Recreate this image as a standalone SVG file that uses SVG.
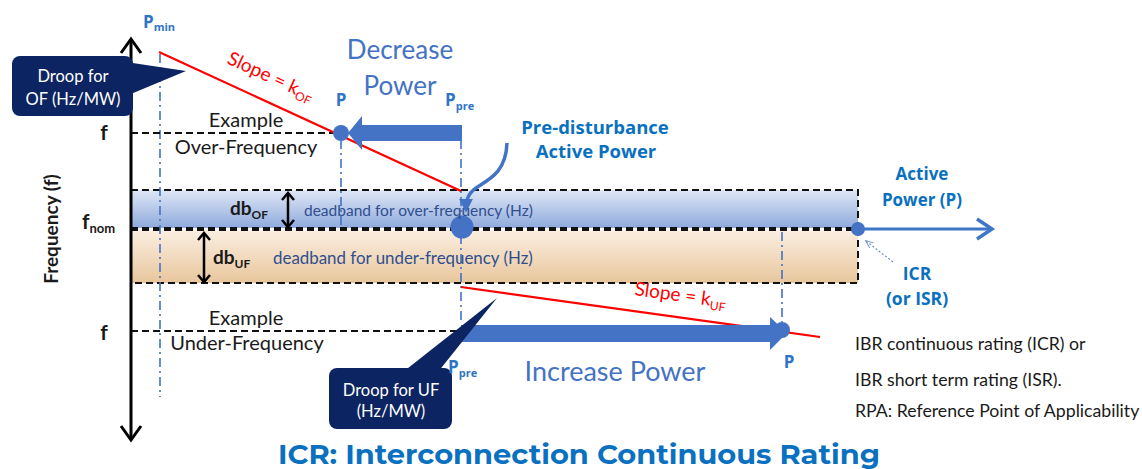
<svg xmlns="http://www.w3.org/2000/svg" width="1142" height="469" viewBox="0 0 1142 469">
<defs>
<style>
.lbl{font-family:Lato,"Open Sans",sans-serif;}
.os{font-family:"Open Sans",Lato,sans-serif;}
.blk{fill:#1a1a1a;}
.pb{fill:#2e75c6;font-weight:bold;}
.bold{font-weight:bold;}
.dd{stroke:#4472c4;stroke-width:1.6;stroke-dasharray:9 4 2 4;fill:none;}
.dash{stroke:#111;stroke-width:2;stroke-dasharray:7 4;fill:none;}
.red{stroke:#ff0000;stroke-width:2.2;fill:none;}
.wt{fill:#ffffff;font-size:16.5px;text-anchor:middle;}
.callout{fill:#0c2461;}
</style>
<linearGradient id="gBlue" x1="0" y1="0" x2="0" y2="1">
<stop offset="0" stop-color="#dfe7f6"/>
<stop offset="1" stop-color="#8eaadc"/>
</linearGradient>
<linearGradient id="gOrange" x1="0" y1="0" x2="0" y2="1">
<stop offset="0" stop-color="#fbefe2"/>
<stop offset="1" stop-color="#e8c69c"/>
</linearGradient>
<marker id="mHead" viewBox="0 0 10 10" refX="8" refY="5" markerWidth="4" markerHeight="4" orient="auto">
<path d="M0,0 L10,5 L0,10 z" fill="#4472c4"/>
</marker>
<marker id="mSmall" viewBox="0 0 10 10" refX="9" refY="5" markerWidth="8" markerHeight="8" orient="auto" markerUnits="userSpaceOnUse">
<path d="M0,1 L10,5 L0,9" fill="none" stroke="#6f8fd0" stroke-width="1.2"/>
</marker>
</defs>
<rect x="0" y="0" width="1142" height="469" fill="#ffffff"/>

<g id="bands">
<rect x="131" y="190" width="727" height="38" fill="url(#gBlue)"/>
<rect x="131" y="230" width="727" height="53" fill="url(#gOrange)"/>
<rect x="131" y="190" width="727" height="38" class="dash"/>
<rect x="131" y="230" width="727" height="53" class="dash"/>
</g>

<g id="guides">
<line x1="160" y1="54" x2="160" y2="397" class="dd"/>
<line x1="341" y1="140" x2="341" y2="228" class="dd"/>
<line x1="461" y1="140" x2="461" y2="322" class="dd"/>
<line x1="782" y1="232" x2="782" y2="322" class="dd"/>
<line x1="131" y1="133" x2="336" y2="133" class="dash"/>
<line x1="131" y1="331" x2="461" y2="331" class="dash"/>
</g>

<g id="axes">
<line x1="131" y1="39" x2="131" y2="440" stroke="#000" stroke-width="3"/>
<polyline points="121,53 131,39 141,53" fill="none" stroke="#000" stroke-width="3"/>
<polyline points="121,426 131,440 141,426" fill="none" stroke="#000" stroke-width="3"/>
<line x1="858" y1="229" x2="992" y2="229" stroke="#3f76c8" stroke-width="3"/>
<polyline points="977,219 992,229 977,239" fill="none" stroke="#3f76c8" stroke-width="3.5"/>
</g>

<g id="connectors">
<line x1="159" y1="52" x2="461" y2="191" class="red"/>
<line x1="461" y1="287" x2="820" y2="337" class="red"/>
<polygon points="462,125 362,125 362,116 348,133 362,150 362,141 462,141" fill="#4472c4"/>
<polygon points="461,325 770,325 770,317 787,333 770,350 770,342 461,342" fill="#4472c4"/>
<path d="M507,143 C506,170 492,178 479,186 C469,192 466,198 466,210" fill="none" stroke="#4472c4" stroke-width="3.5" marker-end="url(#mHead)"/>
<line x1="893" y1="262" x2="866" y2="241" stroke="#6f8fd0" stroke-width="1.2" stroke-dasharray="2 2" marker-end="url(#mSmall)"/>
<line x1="288" y1="194" x2="288" y2="226" stroke="#000" stroke-width="2.5"/>
<polyline points="282,200 288,193 294,200" fill="none" stroke="#000" stroke-width="2.5"/>
<polyline points="282,220 288,227 294,220" fill="none" stroke="#000" stroke-width="2.5"/>
<line x1="204" y1="233" x2="204" y2="282" stroke="#000" stroke-width="2.5"/>
<polyline points="198,240 204,233 210,240" fill="none" stroke="#000" stroke-width="2.5"/>
<polyline points="198,275 204,282 210,275" fill="none" stroke="#000" stroke-width="2.5"/>
</g>

<g id="points">
<circle cx="341" cy="133" r="8" fill="#4472c4"/>
<circle cx="462" cy="227" r="11.5" fill="#4472c4"/>
<circle cx="858" cy="229" r="7" fill="#4472c4"/>
<circle cx="782" cy="330" r="8" fill="#4472c4"/>
</g>

<g id="droop-of">
<polygon points="126,62 186,71 126,96" class="callout"/>
<rect x="12" y="56" width="121" height="60" rx="8" class="callout"/>
<text x="73" y="82" class="lbl wt">Droop for</text>
<text x="73" y="105" class="lbl wt">OF (Hz/MW)</text>
</g>

<g id="droop-uf">
<polygon points="403,372 497,298 438,372" class="callout"/>
<rect x="329" y="368" width="123" height="61" rx="8" class="callout"/>
<text x="391" y="396" class="lbl wt">Droop for UF</text>
<text x="391" y="417" class="lbl wt">(Hz/MW)</text>
</g>

<g id="labels" class="lbl">
<text x="143" y="28" class="os pb" font-size="17">P<tspan font-size="11" dy="3">min</tspan></text>
<text x="341" y="106" class="os pb" font-size="17" text-anchor="middle">P</text>
<text x="445" y="106" class="os pb" font-size="17">P<tspan font-size="11" dy="4">pre</tspan></text>
<text x="448" y="373" class="os pb" font-size="17">P<tspan font-size="11" dy="4">pre</tspan></text>
<text x="789" y="368" class="os pb" font-size="17" text-anchor="middle">P</text>

<text x="400" y="59" font-size="26" fill="#4472c4" text-anchor="middle">Decrease</text>
<text x="400" y="95" font-size="26" fill="#4472c4" text-anchor="middle">Power</text>
<text x="615" y="381" font-size="27" fill="#4472c4" text-anchor="middle">Increase Power</text>

<text x="595" y="134" font-size="18.5" fill="#0a70c0" class="os bold" text-anchor="middle">Pre-disturbance</text>
<text x="596" y="158" font-size="18.5" fill="#0a70c0" class="os bold" text-anchor="middle">Active Power</text>
<text x="922" y="180" font-size="17" fill="#0a70c0" class="os bold" text-anchor="middle">Active</text>
<text x="922" y="206" font-size="17" fill="#0a70c0" class="os bold" text-anchor="middle">Power (P)</text>
<text x="917" y="280" font-size="17.5" fill="#0a70c0" class="os bold" text-anchor="middle">ICR</text>
<text x="917" y="305" font-size="17.5" fill="#0a70c0" class="os bold" text-anchor="middle">(or ISR)</text>

<text x="246" y="127" font-size="20" class="blk" text-anchor="middle">Example</text>
<text x="246" y="154" font-size="20" class="blk" text-anchor="middle">Over-Frequency</text>
<text x="246" y="325" font-size="20" class="blk" text-anchor="middle">Example</text>
<text x="247" y="350" font-size="20" class="blk" text-anchor="middle">Under-Frequency</text>

<text x="104" y="140" font-size="21" class="blk bold" text-anchor="middle">f</text>
<text x="104" y="340" font-size="21" class="blk bold" text-anchor="middle">f</text>
<text x="82" y="229" font-size="21" class="blk bold">f<tspan font-size="13" dy="4">nom</tspan></text>
<text transform="translate(58,229) rotate(-90)" font-size="19" class="blk bold" text-anchor="middle">Frequency (f)</text>

<text x="230" y="215" font-size="19" class="blk bold">db<tspan font-size="12" dy="4">OF</tspan></text>
<text x="213" y="264" font-size="19" class="blk bold">db<tspan font-size="12" dy="4">UF</tspan></text>
<text x="304" y="216" font-size="15.5" fill="#2f4f8f">deadband for over-frequency (Hz)</text>
<text x="273" y="264" font-size="16.9" fill="#2f4f8f">deadband for under-frequency (Hz)</text>

<text transform="translate(226,63) rotate(24.7)" font-size="19" fill="#ff0000">Slope = k<tspan font-size="12" dy="4">OF</tspan></text>
<text transform="translate(634,295) rotate(7.9)" font-size="19" fill="#ff0000">Slope = k<tspan font-size="12" dy="4">UF</tspan></text>

<text x="855" y="350" font-size="17.7" class="blk">IBR continuous rating (ICR) or</text>
<text x="855" y="386" font-size="17.7" class="blk">IBR short term rating (ISR).</text>
<text x="855" y="417" font-size="17.7" class="blk">RPA: Reference Point of Applicability</text>
</g>

<g id="title">
<text x="579" y="464" font-family="Montserrat,'Open Sans',sans-serif" font-weight="bold" font-size="28" fill="#0a70c0" text-anchor="middle" textLength="602" lengthAdjust="spacingAndGlyphs">ICR: Interconnection Continuous Rating</text>
</g>
</svg>
